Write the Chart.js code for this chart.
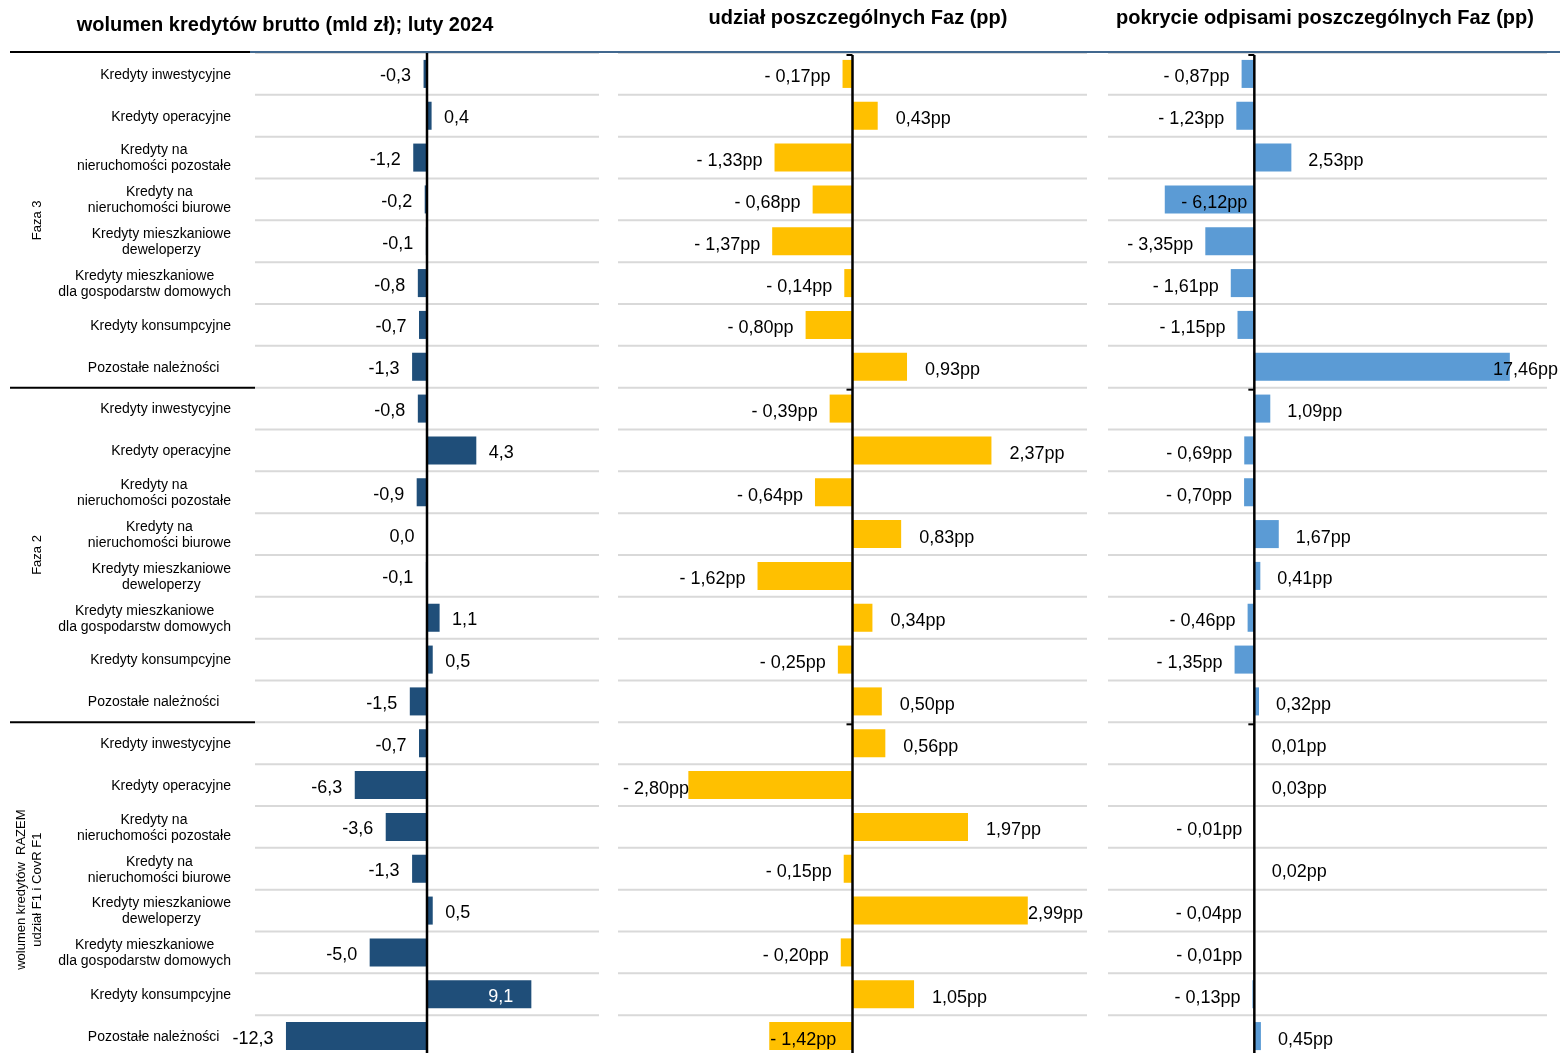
<!DOCTYPE html>
<html>
<head>
<meta charset="utf-8">
<script src="https://cdn.jsdelivr.net/npm/chart.js@4/dist/chart.umd.min.js"></script>
<style>
html,body{margin:0;padding:0;background:#fff;overflow:hidden;width:1560px;height:1053px;position:relative}
canvas{position:absolute;top:0}
</style>
</head>
<body>
<canvas id="c1" width="610" height="1060" style="left:0px"></canvas>
<canvas id="c2" width="490" height="1060" style="left:610px"></canvas>
<canvas id="c3" width="460" height="1060" style="left:1100px"></canvas>
<script>
// ---------- DATA ----------
const categories = [
  ['Kredyty inwestycyjne'],
  ['Kredyty operacyjne'],
  ['Kredyty na', 'nieruchomości pozostałe'],
  ['Kredyty na', 'nieruchomości biurowe'],
  ['Kredyty mieszkaniowe', 'deweloperzy'],
  ['Kredyty mieszkaniowe', 'dla gospodarstw domowych'],
  ['Kredyty konsumpcyjne'],
  ['Pozostałe należności   ']
];
const groups = [
  ['Faza 3'],
  ['Faza 2'],
  ['wolumen kredytów  RAZEM', 'udział F1 i CovR F1']
];
const titles = [
  'wolumen kredytów brutto (mld zł); luty 2024',
  'udział poszczególnych Faz (pp)',
  'pokrycie odpisami poszczególnych Faz (pp)'
];
// wolumen kredytów brutto (mld zł): Faza 3, Faza 2, RAZEM
const volume = [
  -0.3, 0.4, -1.2, -0.2, -0.1, -0.8, -0.7, -1.3,
  -0.8, 4.3, -0.9, 0.0, -0.1, 1.1, 0.5, -1.5,
  -0.7, -6.3, -3.6, -1.3, 0.5, -5.0, 9.1, -12.3
];
// udział poszczególnych Faz (pp)
const share = [
  -0.17, 0.43, -1.33, -0.68, -1.37, -0.14, -0.80, 0.93,
  -0.39, 2.37, -0.64, 0.83, -1.62, 0.34, -0.25, 0.50,
  0.56, -2.80, 1.97, -0.15, 2.99, -0.20, 1.05, -1.42
];
// pokrycie odpisami poszczególnych Faz (pp)
const coverage = [
  -0.87, -1.23, 2.53, -6.12, -3.35, -1.61, -1.15, 17.46,
  1.09, -0.69, -0.70, 1.67, 0.41, -0.46, -1.35, 0.32,
  0.01, 0.03, -0.01, 0.02, -0.04, -0.01, -0.13, 0.45
];

// ---------- RENDERING ----------
const FONT = '"Liberation Sans", Arial, Helvetica, sans-serif';
const rowLabels = groups.flatMap((g, gi) => categories.map(c => c.join(' ').trim()));

const fmtVol = v => (v < 0 ? '-' : '') + Math.abs(v).toFixed(1).replace('.', ',');
const fmtPP = v => (v < 0 ? '- ' : '') + Math.abs(v).toFixed(2).replace('.', ',') + 'pp';

const panels = [
  { id: 'c1', left: 0, values: volume, color: '#1F4E79', pad: { left: 255, right: 11 },
    min: -15, max: 15, fmt: fmtVol, posOff: 12.5, negOff: 12.5, yOff: 2.5,
    title: titles[0], titleX: 285, titleY: 25, axisTicks: false, first: true,
    special: { 22: 'insideEndWhite' }, clampLeft: false, clampRight: null },
  { id: 'c2', left: 610, values: share, color: '#FFC000', pad: { left: 8, right: 13 },
    min: -4, max: 4, fmt: fmtPP, posOff: 18, negOff: 12, yOff: 3.5,
    title: titles[1], titleX: 858, titleY: 18, axisTicks: true, first: false,
    special: { 23: 'atEnd' }, clampLeft: true, clampRight: 473 },
  { id: 'c3', left: 1100, values: coverage, color: '#5B9BD5', pad: { left: 8, right: 13 },
    min: -10, max: 20, fmt: fmtPP, posOff: 17, negOff: 12, yOff: 3.5,
    title: titles[2], titleX: 1325, titleY: 18, axisTicks: true, first: false,
    special: { 3: 'insideBase' }, clampLeft: true, clampRight: 458 }
];

function hline(ctx, x1, x2, y) { ctx.beginPath(); ctx.moveTo(x1, y); ctx.lineTo(x2, y); ctx.stroke(); }

panels.forEach(p => {
  const plugin = {
    id: 'deco_' + p.id,
    beforeDatasetsDraw(chart) {
      const { ctx, chartArea: a, scales: { y } } = chart;
      const n = chart.data.labels.length;
      const step = y.getPixelForValue(1) - y.getPixelForValue(0);
      ctx.save();
      ctx.strokeStyle = '#d9d9d9';
      ctx.lineWidth = 2;
      for (let i = 0; i <= n; i++) {
        const py = y.getPixelForValue(i) - step / 2;
        hline(ctx, a.left, a.right, py);
      }
      ctx.restore();
    },
    afterDatasetsDraw(chart) {
      const { ctx, chartArea: a, scales: { x, y } } = chart;
      const n = chart.data.labels.length;
      const step = y.getPixelForValue(1) - y.getPixelForValue(0);
      const zx = x.getPixelForValue(0);
      const top = y.getPixelForValue(0) - step / 2;
      ctx.save();
      // zero axis
      ctx.strokeStyle = '#000';
      ctx.lineWidth = 2.5;
      ctx.beginPath();
      ctx.moveTo(zx, p.axisTicks ? top + 2 : top);
      ctx.lineTo(zx, a.bottom + 5);
      ctx.stroke();
      if (p.axisTicks) {
        ctx.lineWidth = 2;
        [0, 8, 16].forEach(i => {
          const py = y.getPixelForValue(i) - step / 2 + 2;
          hline(ctx, zx - 6, zx, py);
        });
      }
      // data labels
      ctx.font = '18px ' + FONT;
      ctx.textBaseline = 'middle';
      ctx.textAlign = 'left';
      const meta = chart.getDatasetMeta(0);
      meta.data.forEach((bar, i) => {
        const v = p.values[i];
        const text = p.fmt(v);
        const w = ctx.measureText(text).width;
        const sp = p.special[i];
        let xl, color = '#000';
        if (sp === 'insideEndWhite') { xl = bar.x - 18 - w; color = '#fff'; }
        else if (sp === 'atEnd') { xl = bar.x + 1; }
        else if (sp === 'insideBase') { xl = bar.base - 7 - w; }
        else if (v <= 0 && !(v === 0 && p.id !== 'c1')) { xl = bar.x - p.negOff - w; }
        else { xl = bar.x + p.posOff; }
        if (p.clampLeft) xl = Math.max(xl, a.left + 5);
        const cr = p.clampRight !== null ? p.clampRight : chart.width;
        xl = Math.min(xl, cr - w);
        ctx.fillStyle = color;
        ctx.fillText(text, xl, bar.y + p.yOff);
      });
      // top line
      ctx.lineWidth = 2;
      if (p.first) {
        ctx.strokeStyle = '#000';
        hline(ctx, 10, 250, top - 1);
        ctx.strokeStyle = '#41688f';
        hline(ctx, 250, chart.width, top - 1);
      } else {
        ctx.strokeStyle = '#41688f';
        hline(ctx, 0, chart.width, top - 1);
      }
      // title
      ctx.fillStyle = '#000';
      ctx.font = 'bold 20px ' + FONT;
      ctx.textAlign = 'center';
      ctx.textBaseline = 'middle';
      ctx.fillText(p.title, p.titleX - p.left, p.titleY);

      if (p.first) {
        // group separators
        ctx.strokeStyle = '#000';
        ctx.lineWidth = 2;
        [8, 16].forEach(i => hline(ctx, 10, a.left, y.getPixelForValue(i) - step / 2));
        // category labels (centered lines, right-aligned block)
        ctx.font = '14px ' + FONT;
        ctx.fillStyle = '#000';
        ctx.textAlign = 'center';
        ctx.textBaseline = 'middle';
        const rightEdge = 231;
        for (let i = 0; i < n; i++) {
          const lines = categories[i % categories.length];
          const mw = Math.max(...lines.map(l => ctx.measureText(l).width));
          const cx = rightEdge - mw / 2;
          const cy = y.getPixelForValue(i) + 1;
          const lh = 16;
          lines.forEach((l, k) => {
            ctx.fillText(l, cx, cy + (k - (lines.length - 1) / 2) * lh);
          });
        }
        // rotated group labels
        ctx.font = '13px ' + FONT;
        groups.forEach((g, gi) => {
          const y0 = y.getPixelForValue(gi * 8) - step / 2;
          const y1 = y.getPixelForValue(gi * 8 + 7) + step / 2;
          const cy = (y0 + y1) / 2;
          const xs = g.length === 1 ? [37] : [21, 37];
          g.forEach((t, k) => {
            ctx.save();
            ctx.translate(xs[k], cy);
            ctx.rotate(-Math.PI / 2);
            ctx.fillText(t, 0, 0);
            ctx.restore();
          });
        });
      }
      ctx.restore();
    }
  };

  new Chart(document.getElementById(p.id), {
    type: 'bar',
    data: {
      labels: rowLabels,
      datasets: [{
        data: p.values,
        backgroundColor: p.color,
        borderWidth: 0,
        categoryPercentage: 1.0,
        barPercentage: 0.67
      }]
    },
    options: {
      indexAxis: 'y',
      responsive: false,
      animation: false,
      layout: { padding: { left: p.pad.left, right: p.pad.right, top: 53, bottom: 3 } },
      plugins: { legend: { display: false }, tooltip: { enabled: false }, title: { display: false } },
      scales: {
        x: { display: false, min: p.min, max: p.max },
        y: { display: false, offset: true }
      }
    },
    plugins: [plugin]
  });
});
</script>
</body>
</html>
